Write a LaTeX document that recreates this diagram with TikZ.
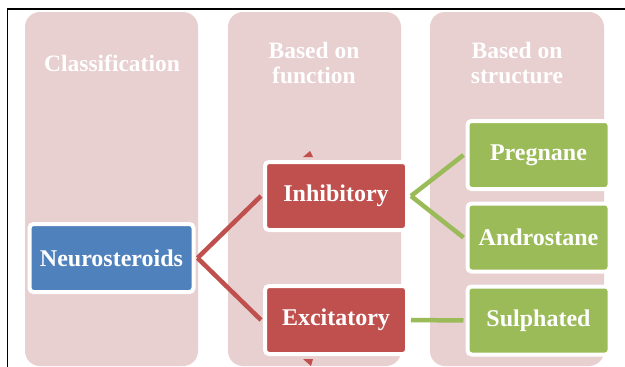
\documentclass[tikz,border=0pt]{standalone}
\usepackage{fontspec}
\setmainfont{Liberation Serif}
\definecolor{colpink}{RGB}{232,207,208}
\definecolor{nblue}{RGB}{79,129,189}
\definecolor{nred}{RGB}{192,80,77}
\definecolor{ngreen}{RGB}{155,187,89}
\tikzset{
  column/.style={fill=colpink, rounded corners=15pt},
  header/.style={text=white, font=\fontsize{23.5}{25}\selectfont\bfseries, align=center},
  nodebox/.style={draw=white, line width=4pt, rounded corners=4pt, text=white,
    font=\fontsize{24}{26}\selectfont\bfseries, minimum height=68pt, inner sep=0pt, anchor=center},
  bluebox/.style={nodebox, fill=nblue, minimum width=164pt},
  redbox/.style={nodebox, fill=nred, minimum width=142pt},
  greenbox/.style={nodebox, fill=ngreen, minimum width=142pt},
  redline/.style={draw=nred, line width=4.5pt},
  greenline/.style={draw=ngreen, line width=4.5pt}
}
\begin{document}
\begin{tikzpicture}[x=1pt,y=-1pt]
\useasboundingbox (0,0) rectangle (625,367);
\fill[white] (0,0) rectangle (625,367);
\draw[black, line width=1.5pt] (7.5,367) -- (7.5,9) -- (625,9);
\begin{scope}
\clip (0,0) rectangle (625,367);
\fill[column] (25,12) rectangle (198,366);
\fill[column] (228,12) rectangle (401,366);
\fill[column] (430,12) rectangle (604,366);
\end{scope}
\node[header] (h1) at (112,63) {Classification};
\node[header] (h2) at (314,63) {Based on\\function};
\node[header] (h3) at (517,63) {Based on\\structure};
% small fragments
\fill[nred] (303,157) -- (313,157) -- (310,151) -- cycle;
\fill[nred] (303,359) -- (313,359) -- (311,366) -- cycle;
\node[bluebox] (neu) at (111.5,258) {Neurosteroids};
\node[redbox] (inh) at (336,196) {Inhibitory};
\node[redbox] (exc) at (336,320) {Excitatory};
\node[greenbox] (pre) at (538.5,155) {Pregnane};
\node[greenbox] (and) at (538.5,237.5) {Androstane};
\node[greenbox] (sul) at (538.5,320.5) {Sulphated};
\draw[redline] ([xshift=2pt]neu.east) -- ([xshift=-2pt]inh.west);
\draw[redline] ([xshift=2pt]neu.east) -- ([xshift=-2pt]exc.west);
\draw[greenline] ([xshift=2pt]inh.east) -- ([xshift=-2pt]pre.west);
\draw[greenline] ([xshift=2pt]inh.east) -- ([xshift=-2pt]and.west);
\draw[greenline] ([xshift=2pt]exc.east) -- ([xshift=-2pt]sul.west);
\end{tikzpicture}
\end{document}
